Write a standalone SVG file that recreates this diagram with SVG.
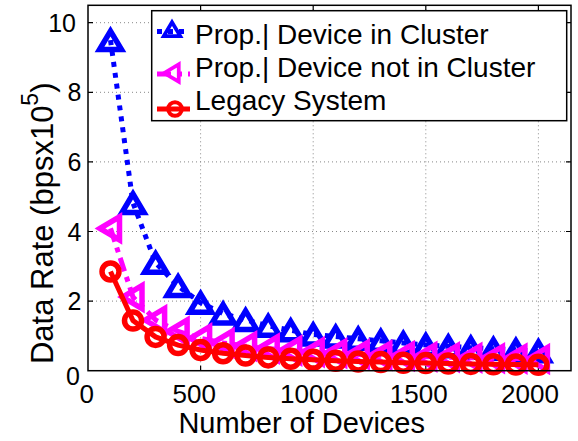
<svg xmlns="http://www.w3.org/2000/svg" width="578" height="441" viewBox="0 0 578 441">
<style>
text{font-family:"Liberation Sans",Arial,sans-serif;fill:#000}
.tick{font-size:25px}
.xt{font-size:26px;text-anchor:middle}
.yt{text-anchor:end}
.grid{stroke:#888;stroke-width:1;stroke-dasharray:1 3;fill:none}
.tk{stroke:#000;stroke-width:1.2}
.blue{stroke:#0000FF;fill:none;stroke-width:5}
.mag{stroke:#FF00FF;fill:none;stroke-width:5}
.red{stroke:#FF0000;fill:none;stroke-width:5}
.mk{stroke-width:5.5}
.lb{stroke-dasharray:5 6}
.lm{stroke-dasharray:14 6 5 6}
.leg{font-size:28px}
</style>
<defs>
<path id="tri" d="M0,-9 L11,9.5 L-11,9.5 Z"/>
<path id="ltri" d="M-10.5,0 L9,-11.5 L9,11.5 Z"/>
<circle id="circ" cx="0" cy="0" r="8.5"/>
</defs>
<rect x="0" y="0" width="578" height="441" fill="#fff"/>
<g id="grid">
<path class="grid" d="M88,301.1H571M88,231.5H571M88,161.9H571M88,92.3H571M88,22.7H571M200.6,5.3V370.7M313.2,5.3V370.7M425.8,5.3V370.7M538.4,5.3V370.7"/>
</g>
<g id="ticks">
<path class="tk" d="M88,301.1h5M88,231.5h5M88,161.9h5M88,92.3h5M88,22.7h5M571,301.1h-5M571,231.5h-5M571,161.9h-5M571,92.3h-5M571,22.7h-5M200.6,370.7v-5M313.2,370.7v-5M425.8,370.7v-5M538.4,370.7v-5M200.6,5.3v5M313.2,5.3v5M425.8,5.3v5M538.4,5.3v5"/>
</g>
<g id="series-in-cluster">
<polyline class="blue lb" points="110.5,40.1 133.0,203.0 155.6,262.8 178.1,286.1 200.6,302.8 223.1,313.6 245.6,319.9 268.2,325.8 290.7,330.3 313.2,334.5 335.7,336.6 358.2,338.7 380.8,340.8 403.3,342.9 425.8,345.0 448.3,346.3 470.8,347.7 493.4,348.8 515.9,349.8 538.4,351.2"/>
<g class="blue mk">
<use href="#tri" x="110.5" y="40.1"/><use href="#tri" x="133.0" y="203.0"/><use href="#tri" x="155.6" y="262.8"/><use href="#tri" x="178.1" y="286.1"/><use href="#tri" x="200.6" y="302.8"/><use href="#tri" x="223.1" y="313.6"/><use href="#tri" x="245.6" y="319.9"/><use href="#tri" x="268.2" y="325.8"/><use href="#tri" x="290.7" y="330.3"/><use href="#tri" x="313.2" y="334.5"/><use href="#tri" x="335.7" y="336.6"/><use href="#tri" x="358.2" y="338.7"/><use href="#tri" x="380.8" y="340.8"/><use href="#tri" x="403.3" y="342.9"/><use href="#tri" x="425.8" y="345.0"/><use href="#tri" x="448.3" y="346.3"/><use href="#tri" x="470.8" y="347.7"/><use href="#tri" x="493.4" y="348.8"/><use href="#tri" x="515.9" y="349.8"/><use href="#tri" x="538.4" y="351.2"/>
</g>
</g>
<g id="series-not-in-cluster">
<polyline class="mag lm" points="110.5,228.4 133.0,297.1 155.6,320.0 178.1,331.5 200.6,338.3 223.1,342.9 245.6,346.2 268.2,348.6 290.7,350.6 313.2,352.1 335.7,353.3 358.2,354.4 380.8,355.3 403.3,356.0 425.8,356.7 448.3,357.2 470.8,357.8 493.4,358.2 515.9,358.6 538.4,359.0"/>
<g class="mag mk">
<use href="#ltri" x="110.5" y="228.4"/><use href="#ltri" x="133.0" y="297.1"/><use href="#ltri" x="155.6" y="320.0"/><use href="#ltri" x="178.1" y="331.5"/><use href="#ltri" x="200.6" y="338.3"/><use href="#ltri" x="223.1" y="342.9"/><use href="#ltri" x="245.6" y="346.2"/><use href="#ltri" x="268.2" y="348.6"/><use href="#ltri" x="290.7" y="350.6"/><use href="#ltri" x="313.2" y="352.1"/><use href="#ltri" x="335.7" y="353.3"/><use href="#ltri" x="358.2" y="354.4"/><use href="#ltri" x="380.8" y="355.3"/><use href="#ltri" x="403.3" y="356.0"/><use href="#ltri" x="425.8" y="356.7"/><use href="#ltri" x="448.3" y="357.2"/><use href="#ltri" x="470.8" y="357.8"/><use href="#ltri" x="493.4" y="358.2"/><use href="#ltri" x="515.9" y="358.6"/><use href="#ltri" x="538.4" y="359.0"/>
</g>
</g>
<g id="series-legacy">
<polyline class="red" points="110.5,271.5 133.0,320.6 155.6,336.9 178.1,345.1 200.6,350.0 223.1,353.3 245.6,355.6 268.2,357.4 290.7,358.8 313.2,359.8 335.7,360.7 358.2,361.5 380.8,362.1 403.3,362.7 425.8,363.1 448.3,363.5 470.8,363.9 493.4,364.2 515.9,364.5 538.4,364.8"/>
<g class="red mk">
<use href="#circ" x="110.5" y="271.5"/><use href="#circ" x="133.0" y="320.6"/><use href="#circ" x="155.6" y="336.9"/><use href="#circ" x="178.1" y="345.1"/><use href="#circ" x="200.6" y="350.0"/><use href="#circ" x="223.1" y="353.3"/><use href="#circ" x="245.6" y="355.6"/><use href="#circ" x="268.2" y="357.4"/><use href="#circ" x="290.7" y="358.8"/><use href="#circ" x="313.2" y="359.8"/><use href="#circ" x="335.7" y="360.7"/><use href="#circ" x="358.2" y="361.5"/><use href="#circ" x="380.8" y="362.1"/><use href="#circ" x="403.3" y="362.7"/><use href="#circ" x="425.8" y="363.1"/><use href="#circ" x="448.3" y="363.5"/><use href="#circ" x="470.8" y="363.9"/><use href="#circ" x="493.4" y="364.2"/><use href="#circ" x="515.9" y="364.5"/><use href="#circ" x="538.4" y="364.8"/>
</g>
</g>
<g id="axes-box">
<rect x="88" y="5.3" width="483" height="365.4" fill="none" stroke="#000" stroke-width="1.5"/>
</g>
<g id="tick-labels" class="tick">
<text class="yt" x="80" y="385">0</text>
<text class="yt" x="81.5" y="310">2</text>
<text class="yt" x="81.5" y="240.5">4</text>
<text class="yt" x="81.5" y="170.9">6</text>
<text class="yt" x="81.5" y="101.3">8</text>
<text class="yt" x="76" y="31.7">10</text>
<text class="xt" x="86.7" y="403.3">0</text>
<text class="xt" x="194.2" y="403.3">500</text>
<text class="xt" x="309" y="403.3">1000</text>
<text class="xt" x="418.7" y="403.3">1500</text>
<text class="xt" x="530" y="403.3">2000</text>
</g>
<g id="axis-labels">
<text x="301.7" y="433" font-size="29" text-anchor="middle">Number of Devices</text>
<text transform="translate(53,223.3) rotate(-90)" font-size="31" text-anchor="middle">Data Rate (bpsx10<tspan font-size="23" dy="-15">5</tspan><tspan dy="15">)</tspan></text>
</g>
<g id="legend">
<rect x="151.7" y="10.7" width="415" height="110" fill="#fff" stroke="#000" stroke-width="1.5"/>
<line class="blue lb" x1="157" y1="31.5" x2="190" y2="31.5"/>
<use class="blue" href="#tri" transform="translate(172,29) scale(0.75)" stroke-width="7"/>
<line class="mag lm" x1="157" y1="74" x2="190" y2="74"/>
<use class="mag" href="#ltri" transform="translate(172,73) scale(0.75)" stroke-width="7"/>
<line class="red" x1="157" y1="109" x2="190" y2="109"/>
<use class="red" href="#circ" transform="translate(175,109) scale(0.8)" stroke-width="6.5"/>
<text class="leg" x="195" y="44">Prop.| Device in Cluster</text>
<text class="leg" x="195" y="77">Prop.| Device not in Cluster</text>
<text class="leg" x="195" y="110">Legacy System</text>
</g>
</svg>
